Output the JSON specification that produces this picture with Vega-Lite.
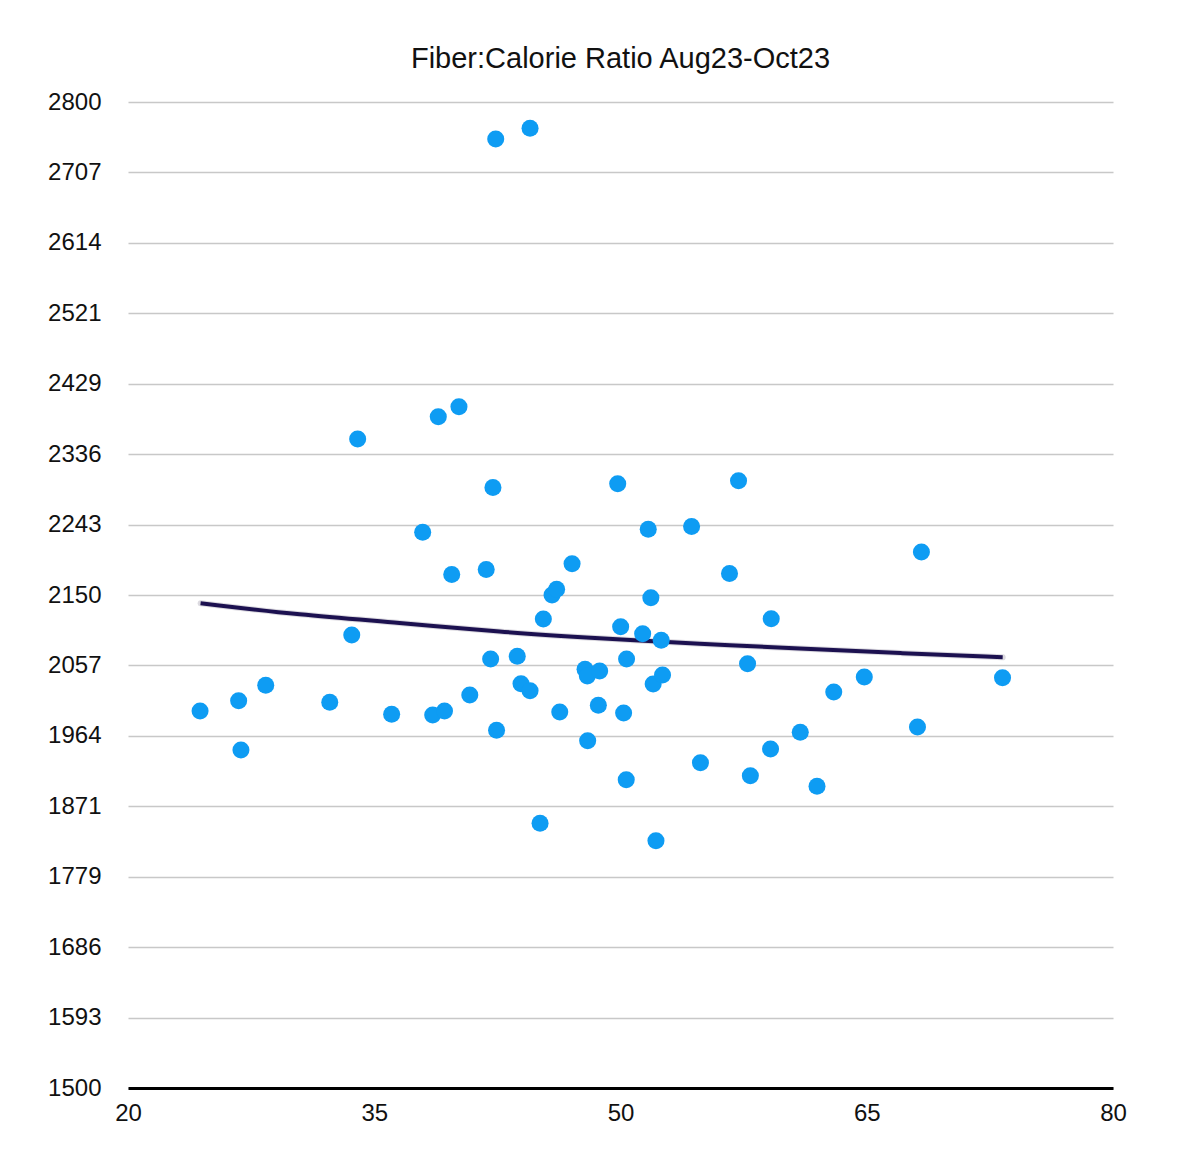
{
  "$schema": "https://vega.github.io/schema/vega-lite/v6.json",
  "width": 985,
  "height": 986,
  "autosize": "none",
  "padding": {"left": 128, "top": 102, "right": 87, "bottom": 76},
  "background": "white",
  "title": {
    "text": "Fiber:Calorie Ratio Aug23-Oct23",
    "font": "Liberation Sans",
    "fontSize": 29,
    "fontWeight": "normal",
    "color": "#111111",
    "anchor": "middle",
    "offset": 16
  },
  "config": {
    "view": {"stroke": null},
    "font": "Liberation Sans"
  },
  "datasets": {
    "points": [
      {"fiber": 24.39, "calories": 1997},
      {"fiber": 26.74, "calories": 2010.7},
      {"fiber": 26.88, "calories": 1945.7},
      {"fiber": 28.39, "calories": 2031},
      {"fiber": 32.29, "calories": 2008.5},
      {"fiber": 33.63, "calories": 2097.3},
      {"fiber": 33.99, "calories": 2355.7},
      {"fiber": 36.06, "calories": 1992.7},
      {"fiber": 37.95, "calories": 2232.7},
      {"fiber": 38.56, "calories": 1991.8},
      {"fiber": 38.9, "calories": 2385.1},
      {"fiber": 39.28, "calories": 1997},
      {"fiber": 39.72, "calories": 2177},
      {"fiber": 40.16, "calories": 2398.3},
      {"fiber": 40.82, "calories": 2018.2},
      {"fiber": 41.82, "calories": 2183.6},
      {"fiber": 42.09, "calories": 2065.6},
      {"fiber": 42.23, "calories": 2291.8},
      {"fiber": 42.4, "calories": 2751.3},
      {"fiber": 42.45, "calories": 1971.6},
      {"fiber": 43.71, "calories": 2069.2},
      {"fiber": 43.94, "calories": 2033.1},
      {"fiber": 44.49, "calories": 2023.8},
      {"fiber": 44.49, "calories": 2765.4},
      {"fiber": 45.1, "calories": 1849},
      {"fiber": 45.3, "calories": 2118.4},
      {"fiber": 45.83, "calories": 2150},
      {"fiber": 46.11, "calories": 2157.5},
      {"fiber": 46.3, "calories": 1995.8},
      {"fiber": 47.05, "calories": 2191.3},
      {"fiber": 47.84, "calories": 2052},
      {"fiber": 47.98, "calories": 2043.2},
      {"fiber": 48.0, "calories": 1957.9},
      {"fiber": 48.65, "calories": 2004.6},
      {"fiber": 48.73, "calories": 2049.8},
      {"fiber": 49.83, "calories": 2296.8},
      {"fiber": 50.01, "calories": 2108.2},
      {"fiber": 50.19, "calories": 1994.4},
      {"fiber": 50.35, "calories": 1906.5},
      {"fiber": 50.37, "calories": 2065.6},
      {"fiber": 51.35, "calories": 2099},
      {"fiber": 51.69, "calories": 2236.6},
      {"fiber": 51.85, "calories": 2146.5},
      {"fiber": 51.99, "calories": 2032.7},
      {"fiber": 52.16, "calories": 1826.1},
      {"fiber": 52.48, "calories": 2090.3},
      {"fiber": 52.56, "calories": 2044.5},
      {"fiber": 54.33, "calories": 2240.3},
      {"fiber": 54.87, "calories": 1928.9},
      {"fiber": 56.64, "calories": 2178.4},
      {"fiber": 57.19, "calories": 2300.7},
      {"fiber": 57.74, "calories": 2059.4},
      {"fiber": 57.91, "calories": 1911.8},
      {"fiber": 59.18, "calories": 2118.8},
      {"fiber": 59.14, "calories": 1947},
      {"fiber": 60.95, "calories": 1969},
      {"fiber": 61.97, "calories": 1897.8},
      {"fiber": 62.99, "calories": 2022.1},
      {"fiber": 64.85, "calories": 2041.9},
      {"fiber": 68.09, "calories": 1976},
      {"fiber": 68.33, "calories": 2206.7},
      {"fiber": 73.27, "calories": 2041}
    ],
    "trend": [
      {"fiber": 24.42, "calories": 2139.1},
      {"fiber": 30.45, "calories": 2123.7},
      {"fiber": 36.54, "calories": 2113.5},
      {"fiber": 42.63, "calories": 2101.2},
      {"fiber": 48.72, "calories": 2092.9},
      {"fiber": 54.82, "calories": 2085.4},
      {"fiber": 60.91, "calories": 2079.7},
      {"fiber": 67.03, "calories": 2073.2},
      {"fiber": 73.28, "calories": 2067.9}
    ]
  },
  "encoding": {
    "x": {
      "field": "fiber",
      "type": "quantitative",
      "title": null,
      "scale": {"domain": [20, 80], "nice": false, "zero": false},
      "axis": {
        "values": [20, 35, 50, 65, 80],
        "grid": false,
        "ticks": false,
        "domainColor": "#000000",
        "domainWidth": 3,
        "labelFontSize": 24,
        "labelColor": "#111111",
        "labelPadding": 13,
        "labelFlush": false
      }
    },
    "y": {
      "field": "calories",
      "type": "quantitative",
      "title": null,
      "scale": {"domain": [1500, 2800], "nice": false, "zero": false},
      "axis": {
        "values": [1500, 1592.857, 1685.714, 1778.571, 1871.429, 1964.286, 2057.143, 2150, 2242.857, 2335.714, 2428.571, 2521.429, 2614.286, 2707.143, 2800],
        "format": ".0f",
        "domain": false,
        "ticks": false,
        "grid": true,
        "gridColor": "#c8c8c8",
        "gridWidth": 1.5,
        "labelFontSize": 24,
        "labelColor": "#111111",
        "labelPadding": 27
      }
    }
  },
  "layer": [
    {
      "data": {"name": "trend"},
      "mark": {"type": "line", "interpolate": "basis", "color": "#c4c2cc", "strokeWidth": 6, "strokeCap": "round", "opacity": 0.6}
    },
    {
      "data": {"name": "trend"},
      "mark": {"type": "line", "interpolate": "basis", "color": "#1c1150", "strokeWidth": 4, "strokeCap": "butt"}
    },
    {
      "data": {"name": "points"},
      "mark": {"type": "circle", "color": "#0e9cf3", "opacity": 1, "size": 290}
    }
  ]
}
